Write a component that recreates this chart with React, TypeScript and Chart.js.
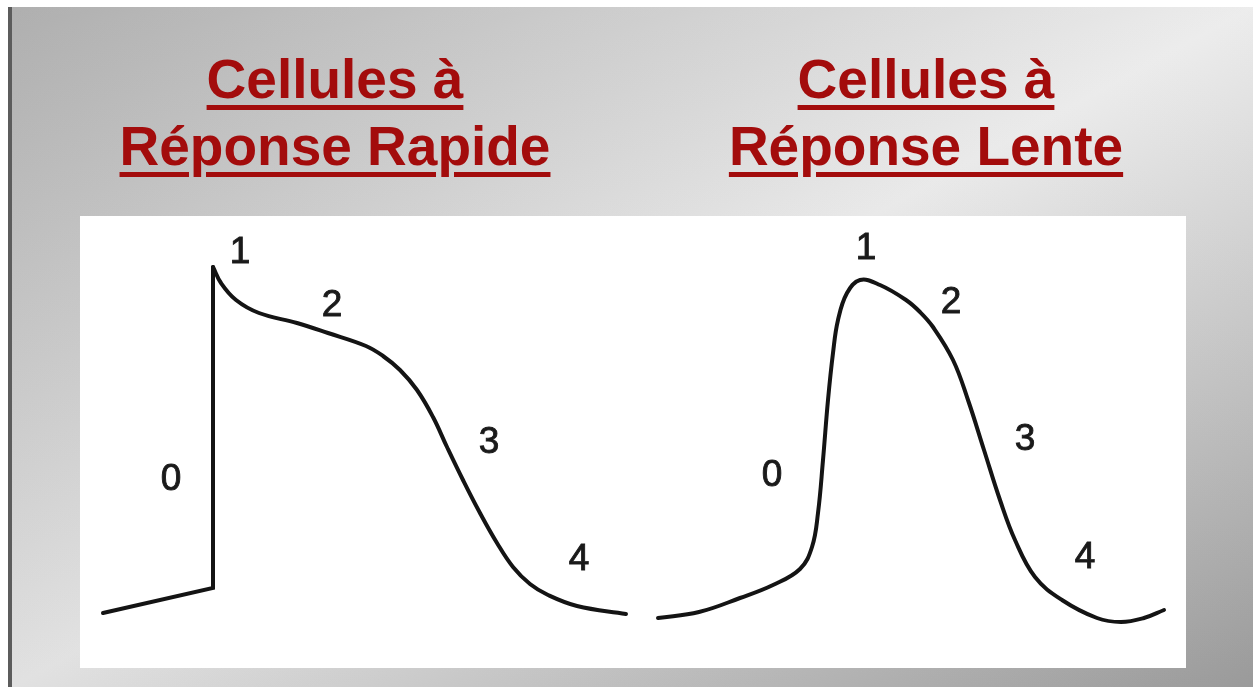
import React, { useEffect, useRef } from "react";
import { Chart, registerables } from "chart.js";

Chart.register(...registerables);

// Titles
const titleRapide = ["Cellules à", "Réponse Rapide"];
const titleLente = ["Cellules à", "Réponse Lente"];

// Fast-response action potential: phase 4 rest + phase 0 upstroke (straight segments)
const rapideUpT = [23, 133, 133];
const rapideUpV = [55, 80, 401];
// Fast-response: phases 1-2-3-4 (smooth)
const rapideDownT = [133, 141, 156, 179, 217, 248, 286, 303, 320, 337, 353, 367, 383, 400, 417, 433, 450, 468, 497, 546];
const rapideDownV = [401, 385, 368, 355, 345, 335, 322, 312, 298, 278, 251, 221, 188, 155, 125, 101, 84, 73, 62, 54];

// Slow-response action potential
const lenteT = [578, 619, 660, 693, 720, 732, 738, 743, 748, 753, 758, 767, 780, 800, 826, 840, 853, 873, 888, 904, 920, 935, 955, 982, 1017, 1041, 1064, 1084];
const lenteV = [50, 56, 70, 83, 99, 121, 155, 208, 268, 315, 348, 375, 388, 383, 368, 356, 341, 308, 268, 218, 168, 128, 91, 68, 50, 46, 50, 58];

// Phase labels
const phaseLabels = ["0", "1", "2", "3", "4"];
const rapideLabelT = [91, 160, 252, 409, 499];
const rapideLabelV = [191, 418, 365, 228, 111];
const lenteLabelT = [692, 786, 871, 945, 1005];
const lenteLabelV = [195, 422, 368, 231, 113];

const toXY = (t: number[], v: number[]) => t.map((x, i) => ({ x, y: v[i] }));

const phasePlugin = {
  id: "phaseLabels",
  afterDatasetsDraw(chart: any) {
    const { ctx, scales } = chart;
    ctx.save();
    ctx.fillStyle = "#1a1a1a";
    ctx.strokeStyle = "#1a1a1a";
    ctx.lineWidth = 0.9;
    ctx.font = "37px 'Liberation Sans', Arial, sans-serif";
    ctx.textAlign = "center";
    ctx.textBaseline = "alphabetic";
    const draw = (ts: number[], vs: number[]) => {
      phaseLabels.forEach((lab, i) => {
        const px = scales.x.getPixelForValue(ts[i]);
        const py = scales.y.getPixelForValue(vs[i]);
        ctx.fillText(lab, px, py + 13);
        ctx.strokeText(lab, px, py + 13);
      });
    };
    draw(rapideLabelT, rapideLabelV);
    draw(lenteLabelT, lenteLabelV);
    ctx.restore();
  },
};

function Title({ lines, center }: { lines: string[]; center: number }) {
  return (
    <div
      style={{
        position: "absolute",
        left: center - 350,
        width: 700,
        top: 39,
        textAlign: "center",
        fontFamily: "'Liberation Sans', Arial, sans-serif",
        fontWeight: 700,
        fontSize: 55,
        lineHeight: "67px",
        color: "#a30c0c",
        whiteSpace: "nowrap",
      }}
    >
      {lines.map((l, i) => (
        <div key={i}>
          <span
            style={{
              textDecoration: "underline",
              textDecorationThickness: "5px",
              textUnderlineOffset: "7px",
            }}
          >
            {l}
          </span>
        </div>
      ))}
    </div>
  );
}

export default function App() {
  const canvasRef = useRef<HTMLCanvasElement | null>(null);

  useEffect(() => {
    if (!canvasRef.current) return;
    const lineStyle = {
      borderColor: "#141414",
      borderWidth: 4,
      pointRadius: 0,
      fill: false,
      borderCapStyle: "round" as const,
    };
    const chart = new Chart(canvasRef.current, {
      type: "line",
      data: {
        datasets: [
          {
            label: "Réponse Rapide (0)",
            data: toXY(rapideUpT, rapideUpV),
            tension: 0,
            borderJoinStyle: "miter",
            ...lineStyle,
          },
          {
            label: "Réponse Rapide (1-4)",
            data: toXY(rapideDownT, rapideDownV),
            tension: 0.4,
            borderJoinStyle: "round",
            ...lineStyle,
          },
          {
            label: "Réponse Lente",
            data: toXY(lenteT, lenteV),
            tension: 0.4,
            borderJoinStyle: "round",
            ...lineStyle,
          },
        ],
      },
      options: {
        animation: false,
        responsive: false,
        maintainAspectRatio: false,
        layout: { padding: 0 },
        plugins: {
          legend: { display: false },
          tooltip: { enabled: false },
          title: { display: false },
        },
        scales: {
          x: { type: "linear", min: 0, max: 1106, display: false },
          y: { type: "linear", min: 0, max: 452, display: false },
        },
      },
      plugins: [phasePlugin],
    } as any);
    return () => chart.destroy();
  }, []);

  return (
    <div
      style={{
        position: "fixed",
        left: 8,
        top: 7,
        right: 0,
        bottom: 0,
        boxSizing: "border-box",
        borderLeft: "4px solid #5c5c5c",
        overflow: "hidden",
        background:
          "linear-gradient(to bottom, rgba(255,255,255,0.12), rgba(0,0,0,0.04)), linear-gradient(to bottom right, #a4a4a4 0%, #eaeaea 50%, #a0a0a0 100%)",
      }}
    >
      <Title lines={titleRapide} center={323} />
      <Title lines={titleLente} center={914} />
      <div
        style={{
          position: "absolute",
          left: 68,
          top: 209,
          width: 1106,
          height: 452,
          background: "#ffffff",
        }}
      >
        <canvas ref={canvasRef} width={1106} height={452} style={{ display: "block" }} />
      </div>
    </div>
  );
}
